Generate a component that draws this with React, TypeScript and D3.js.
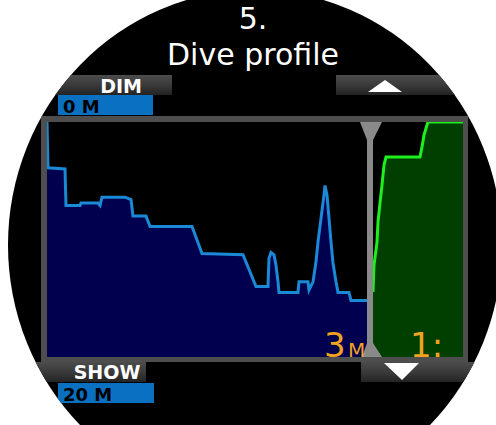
import React from "react";
import * as d3 from "d3";

// ---- Data ----
const titleLines = ["5.", "Dive profile"];
const buttonLabels = ["DIM", "SHOW"];
const depthLabels = ["0 M", "20 M"];
const currentDepth = "3";
const currentDepthUnit = "M";
const gasLabel = "1:";

// depth profile: time (units) vs depth (m)
const profileTime = [0, 0.2, 3.6, 3.8, 6.6, 6.8, 10.2, 10.6, 11.0, 15.6, 16.8, 17.2, 19.8, 20.6, 29.0, 31.0, 39.2, 41.8, 44.2, 44.4, 44.8, 45.4, 45.8, 46.2, 46.4, 50.2, 50.4, 52.2, 52.4, 53.2, 53.8, 54.2, 54.8, 55.4, 55.6, 56.0, 56.4, 56.8, 57.2, 57.8, 58.2, 60.4, 60.8, 64];
const profileDepth = [0, 3.9, 4.0, 7.1, 7.1, 6.9, 6.9, 7.1, 6.4, 6.4, 6.6, 8.0, 8.0, 8.9, 8.9, 11.2, 11.3, 14.0, 14.0, 11.6, 11.1, 11.3, 12.2, 13.6, 14.5, 14.5, 13.6, 13.6, 14.3, 13.6, 11.9, 10.2, 8.2, 6.2, 5.4, 6.2, 8.2, 10.2, 12.0, 13.6, 14.5, 14.5, 15.2, 15.2];

// right panel: time (units) vs value (%)
const gasTime = [0, 0.2, 0.8, 1.0, 1.4, 1.8, 2.2, 2.6, 9.4, 9.8, 10.2, 10.8, 11.0, 18];
const gasValue = [27.7, 39.1, 48.9, 57.4, 65.5, 73.2, 81.7, 85.1, 85.1, 89.4, 94.5, 98.7, 100, 100];

const W = 496;
const H = 425;

export default function App() {
  // geometry
  const plotTop = 122;
  const plotBottom = 357;
  const blueL = 47;
  const blueR = 367;
  const greenL = 373;
  const greenR = 463;

  const x = d3.scaleLinear().domain([0, 64]).range([blueL, blueR]);
  const y = d3.scaleLinear().domain([0, 20]).range([plotTop, plotBottom]);
  const gx = d3.scaleLinear().domain([0, 18]).range([greenL, greenR]);
  const gy = d3.scaleLinear().domain([0, 100]).range([plotBottom, plotTop]);

  const profile = profileTime.map((t, i) => [t, profileDepth[i]] as [number, number]);
  const gas = gasTime.map((t, i) => [t, gasValue[i]] as [number, number]);

  const blueArea = d3.area<[number, number]>().x((d) => x(d[0])).y0(plotBottom).y1((d) => y(d[1]))(profile) || "";
  const blueLine = d3.line<[number, number]>().x((d) => x(d[0])).y((d) => y(d[1]))(profile) || "";
  const greenArea = d3.area<[number, number]>().x((d) => gx(d[0])).y0(plotBottom).y1((d) => gy(d[1]))(gas) || "";
  const greenLine = d3.line<[number, number]>().x((d) => gx(d[0])).y((d) => gy(d[1]))(gas) || "";

  const font = "'DejaVu Sans', sans-serif";
  const orange = "#f2a31e";

  return (
    <svg
      width={W}
      height={H}
      style={{ position: "absolute", left: 0, top: 0, background: "#fff" }}
    >
      <defs>
        <clipPath id="screen">
          <ellipse cx={255} cy={245} rx={247} ry={255} />
        </clipPath>
        <clipPath id="blueClip">
          <rect x={blueL} y={plotTop} width={blueR - blueL} height={plotBottom - plotTop} />
        </clipPath>
        <clipPath id="greenClip">
          <rect x={greenL} y={plotTop} width={greenR - greenL} height={plotBottom - plotTop} />
        </clipPath>
        <linearGradient id="band" x1="0" y1="0" x2="0" y2="1">
          <stop offset="0" stopColor="#4c4c4c" />
          <stop offset="0.5" stopColor="#3a3a3a" />
          <stop offset="1" stopColor="#232323" />
        </linearGradient>
      </defs>
      <rect x={0} y={0} width={W} height={H} fill="#fff" />
      <g clipPath="url(#screen)">
        <rect x={0} y={0} width={W} height={H} fill="#000" />

        {/* title */}
        <text x={253} y={29} fill="#fff" fontFamily={font} fontSize={30} textAnchor="middle">
          {titleLines[0]}
        </text>
        <text x={253} y={65} fill="#fff" fontFamily={font} fontSize={30} textAnchor="middle">
          {titleLines[1]}
        </text>

        {/* top band */}
        <rect x={0} y={75} width={172} height={20} fill="url(#band)" />
        <rect x={336} y={75} width={160} height={20} fill="url(#band)" />
        <text x={121} y={92.5} fill="#fff" fontFamily={font} fontWeight="bold" fontSize={19} textAnchor="middle">
          {buttonLabels[0]}
        </text>
        <path d="M385,80 L402,92 L368,92 Z" fill="#fff" />
        <rect x={58} y={95} width={95} height={20} fill="#0a70c2" />
        <text x={63} y={113} fill="#000" fontFamily={font} fontWeight="bold" fontSize={18}>
          {depthLabels[0]}
        </text>

        {/* frame */}
        <rect x={41} y={116} width={427} height={246} fill="#4e4e4e" />
        <rect x={blueL} y={plotTop} width={greenR - blueL} height={plotBottom - plotTop} fill="#000" />

        {/* depth profile */}
        <g clipPath="url(#blueClip)">
          <path d={blueArea} fill="#00004f" />
          <path d={blueLine} fill="none" stroke="#1a8ad6" strokeWidth={3} strokeLinejoin="miter" />
        </g>

        {/* right panel */}
        <g clipPath="url(#greenClip)">
          <path d={greenArea} fill="#003f00" />
          <path d={greenLine} fill="none" stroke="#1ef01e" strokeWidth={3} />
        </g>

        {/* divider */}
        <rect x={blueR} y={plotTop} width={greenL - blueR} height={plotBottom - plotTop} fill="#8a8a8a" />
        <path d="M360,122 L382,122 L373,140 L367,140 Z" fill="#8a8a8a" />
        <path d="M367,343 L373,343 L382,357 L362,357 Z" fill="#8a8a8a" />

        {/* orange readouts */}
        <text x={324} y={357} fill={orange} fontFamily={font} fontSize={34}>
          {currentDepth}
        </text>
        <text x={348} y={357} fill={orange} fontFamily={font} fontSize={20}>
          {currentDepthUnit}
        </text>
        <text x={410} y={357} fill={orange} fontFamily={font} fontSize={34}>
          {gasLabel}
        </text>

        {/* bottom band */}
        <rect x={0} y={362} width={146} height={20} fill="url(#band)" />
        <rect x={361} y={362} width={135} height={20} fill="url(#band)" />
        <text x={107} y={379} fill="#fff" fontFamily={font} fontWeight="bold" fontSize={19} textAnchor="middle">
          {buttonLabels[1]}
        </text>
        <path d="M384,363 L419,363 L402,380 Z" fill="#fff" />
        <rect x={58} y={383} width={96} height={20} fill="#0a70c2" />
        <text x={63} y={401} fill="#000" fontFamily={font} fontWeight="bold" fontSize={18}>
          {depthLabels[1]}
        </text>
      </g>
    </svg>
  );
}
